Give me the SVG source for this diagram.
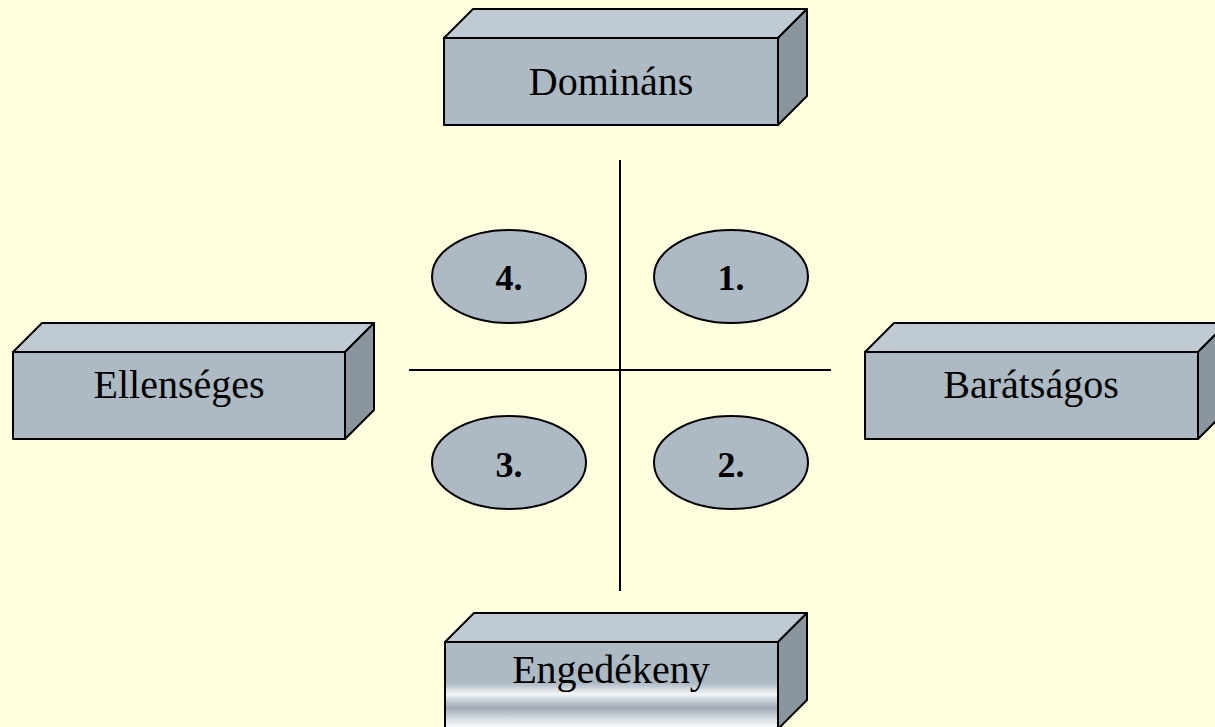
<svg xmlns="http://www.w3.org/2000/svg" width="1215" height="727" viewBox="0 0 1215 727">
  <defs>
    <style>
      .front { fill: #adb9c3; stroke: #000; stroke-width: 2; stroke-linejoin: round; }
      .top { fill: #bfcad3; stroke: #000; stroke-width: 2; stroke-linejoin: round; }
      .side { fill: #8a959e; stroke: #000; stroke-width: 2; stroke-linejoin: round; }
      .oval { fill: #adb9c3; stroke: #000; stroke-width: 2; }
      .label { font-family: "Liberation Serif", "Times New Roman", serif; font-size: 40px; fill: #000; text-anchor: middle; }
      .num { font-family: "Liberation Serif", "Times New Roman", serif; font-size: 36px; font-weight: bold; fill: #000; text-anchor: middle; }
      .axis { stroke: #000; stroke-width: 2; fill: none; }
    </style>
    <linearGradient id="metal" x1="0" y1="642" x2="0" y2="729" gradientUnits="userSpaceOnUse">
      <stop offset="0" stop-color="#adb9c3"/>
      <stop offset="0.47" stop-color="#adb9c3"/>
      <stop offset="0.6" stop-color="#f4f6f8"/>
      <stop offset="0.68" stop-color="#c2cad1"/>
      <stop offset="0.76" stop-color="#9ea9b3"/>
      <stop offset="0.88" stop-color="#d6dce1"/>
      <stop offset="1" stop-color="#ffffff"/>
    </linearGradient>
  </defs>

  <rect width="1215" height="727" fill="#ffffe0"/>

  <!-- axes -->
  <g id="connectors">
    <line class="axis" x1="620" y1="160" x2="620" y2="591"/>
    <line class="axis" x1="409" y1="370" x2="831" y2="370"/>
  </g>

  <!-- top block -->
  <g id="dominans">
    <polygon class="top" points="444,38 473,9 807,9 778,38"/>
    <polygon class="side" points="778,38 807,9 807,96 778,125"/>
    <rect class="front" x="444" y="38" width="334" height="87"/>
    <text class="label" x="611" y="95">Domináns</text>
  </g>

  <!-- left block -->
  <g id="ellenseges">
    <polygon class="top" points="13,352 42,323 374,323 345,352"/>
    <polygon class="side" points="345,352 374,323 374,410 345,439"/>
    <rect class="front" x="13" y="352" width="332" height="87"/>
    <text class="label" x="179" y="398">Ellenséges</text>
  </g>

  <!-- right block -->
  <g id="baratsagos">
    <polygon class="top" points="865,352 894,323 1227,323 1198,352"/>
    <polygon class="side" points="1198,352 1227,323 1227,410 1198,439"/>
    <rect class="front" x="865" y="352" width="333" height="87"/>
    <text class="label" x="1031" y="398">Barátságos</text>
  </g>

  <!-- bottom block -->
  <g id="engedekeny">
    <polygon class="top" points="445,642 474,613 807,613 778,642"/>
    <polygon class="side" points="778,642 807,613 807,700 778,729"/>
    <rect class="front" x="445" y="642" width="333" height="87" style="fill:url(#metal)"/>
    <text class="label" x="611" y="683">Engedékeny</text>
  </g>

  <!-- quadrant markers -->
  <g id="q4">
    <ellipse class="oval" cx="509" cy="276.5" rx="77" ry="46.5"/>
    <text class="num" x="509" y="290">4.</text>
  </g>
  <g id="q1">
    <ellipse class="oval" cx="731" cy="276.5" rx="77" ry="46.5"/>
    <text class="num" x="731" y="290">1.</text>
  </g>
  <g id="q3">
    <ellipse class="oval" cx="509" cy="462.5" rx="77" ry="46.5"/>
    <text class="num" x="509" y="477">3.</text>
  </g>
  <g id="q2">
    <ellipse class="oval" cx="731" cy="462.5" rx="77" ry="46.5"/>
    <text class="num" x="731" y="477">2.</text>
  </g>
</svg>
